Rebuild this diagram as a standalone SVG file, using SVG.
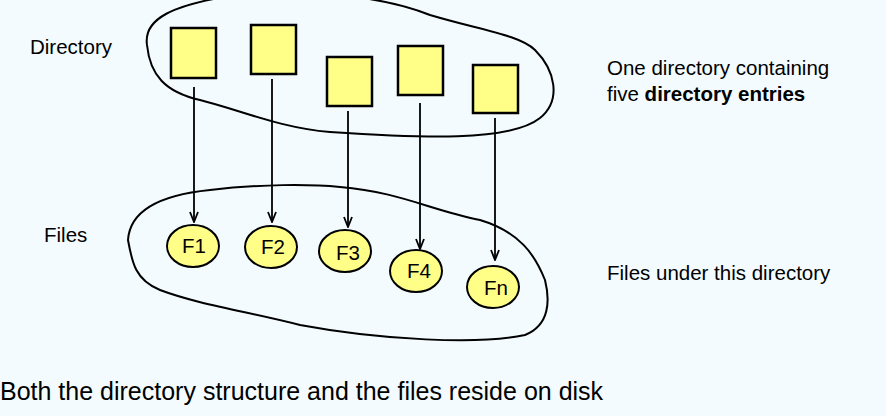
<svg xmlns="http://www.w3.org/2000/svg" width="886" height="416" viewBox="0 0 886 416">
<defs>
<style>
.t{font-family:"Liberation Sans",Arial,sans-serif;font-size:20.5px;fill:#000}
.box{fill:#ffff88;stroke:#000;stroke-width:2.5}
.f{fill:#ffff88;stroke:#000;stroke-width:2}
.blob{fill:none;stroke:#000;stroke-width:2}
.c{stroke:#000;stroke-width:1.8;fill:none;marker-end:url(#a)}
</style>
<marker id="a" viewBox="0 0 12 10" refX="11" refY="5" markerWidth="12" markerHeight="10" markerUnits="userSpaceOnUse" orient="auto"><path d="M1,1 L11,5 L1,9" fill="none" stroke="#000" stroke-width="1.8"/></marker>
</defs>
<rect width="886" height="416" fill="#f3fbfe"/>
<path class="blob" d="M147,45 C143,18 175,5 230,-4 C300,-12 380,-5 430,15 C480,30 520,35 535,50 C555,70 562,100 540,118 C510,142 420,138 330,132 C280,128 240,110 200,100 C165,92 150,75 147,45"/>
<path class="blob" d="M128,240 C130,210 160,195 210,190 C260,184 310,184 340,187 C400,192 430,210 480,220 C520,232 535,255 545,280 C550,300 550,325 525,335 C480,345 380,340 300,325 C250,312 200,305 160,290 C135,280 132,262 128,240 Z"/>
<text class="t" x="30" y="54">Directory</text>
<text class="t" x="44" y="242">Files</text>
<text class="t" x="607" y="75">One directory containing</text>
<text class="t" x="607" y="101">five <tspan font-weight="bold">directory entries</tspan></text>
<text class="t" x="607" y="280">Files under this directory</text>
<text class="t" x="0" y="400" style="font-size:25px">Both the directory structure and the files reside on disk</text>
<g id="d1"><rect class="box" x="171" y="28" width="45" height="50"/></g>
<g id="d2"><rect class="box" x="251" y="25" width="45" height="49"/></g>
<g id="d3"><rect class="box" x="327" y="57" width="45" height="49"/></g>
<g id="d4"><rect class="box" x="398" y="46" width="45" height="49"/></g>
<g id="d5"><rect class="box" x="473" y="65" width="45" height="48"/></g>
<g id="f1"><ellipse class="f" cx="193" cy="246" rx="26" ry="21"/><text class="t" x="194" y="253" text-anchor="middle">F1</text></g>
<g id="f2"><ellipse class="f" cx="271" cy="247" rx="26" ry="21"/><text class="t" x="273" y="254" text-anchor="middle">F2</text></g>
<g id="f3"><ellipse class="f" cx="345" cy="251" rx="26" ry="21"/><text class="t" x="348" y="260" text-anchor="middle">F3</text></g>
<g id="f4"><ellipse class="f" cx="416" cy="271" rx="26" ry="21"/><text class="t" x="419" y="278" text-anchor="middle">F4</text></g>
<g id="fn"><ellipse class="f" cx="493" cy="287" rx="26" ry="21"/><text class="t" x="496" y="295" text-anchor="middle">Fn</text></g>
<g id="connectors">
<line class="c" x1="194" y1="87" x2="194" y2="222"/>
<line class="c" x1="272" y1="79" x2="272" y2="222"/>
<line class="c" x1="348" y1="111" x2="348" y2="227"/>
<line class="c" x1="420" y1="103" x2="420" y2="249"/>
<line class="c" x1="495" y1="118" x2="495" y2="260"/>
</g>
</svg>
